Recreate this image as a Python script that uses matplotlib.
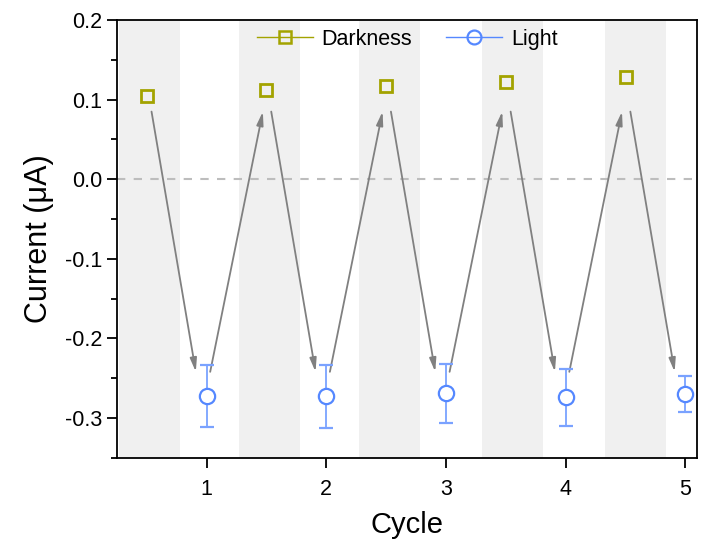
import matplotlib.pyplot as plt
from matplotlib.lines import Line2D
import numpy as np

plt.rcParams['font.family'] = ['Liberation Sans', 'DejaVu Sans']

# data
cycles = [1, 2, 3, 4, 5]
dark_x = [0.5, 1.5, 2.5, 3.5, 4.5]
dark_current = [0.105, 0.112, 0.117, 0.122, 0.128]
light_current = [-0.272, -0.273, -0.269, -0.274, -0.270]
light_err = [0.039, 0.039, 0.037, 0.036, 0.023]
band_start = [0.27, 1.27, 2.27, 3.30, 4.33]
band_end = [0.78, 1.78, 2.78, 3.81, 4.84]

dark_col = '#a3a300'
light_col = '#5588ff'
arrow_col = '#808080'

fig = plt.figure(figsize=(7.08, 5.43), dpi=100)
ax = fig.add_axes([0.165, 0.157, 0.82, 0.806])

# shaded darkness periods
for s, e in zip(band_start, band_end):
    ax.axvspan(s, e, color='#f0f0f0', lw=0, zorder=0)

ax.axhline(0, color='#bdbdbd', ls=(0, (4, 4)), lw=1.5, zorder=1)

# arrows between states
y_hi, y_lo = 0.085, -0.242
style = '-|>,head_length=0.8,head_width=0.2'
for xd, xl in zip(dark_x, cycles):
    ax.annotate('', xy=(xl - 0.09, y_lo), xytext=(xd + 0.04, y_hi),
                arrowprops=dict(arrowstyle=style, color=arrow_col, lw=1.3,
                                shrinkA=0, shrinkB=0), zorder=2)
for xl, xd in zip(cycles[:-1], dark_x[1:]):
    ax.annotate('', xy=(xd - 0.03, y_hi), xytext=(xl + 0.03, y_lo),
                arrowprops=dict(arrowstyle=style, color=arrow_col, lw=1.3,
                                shrinkA=0, shrinkB=0), zorder=2)

ax.plot(dark_x, dark_current, ls='none', marker='s', ms=8, mfc='none',
        mec=dark_col, mew=2, zorder=3)
ax.errorbar(cycles, light_current, yerr=light_err, ls='none', marker='o', ms=11,
            mfc='white', mec=light_col, mew=1.6, ecolor='#7aa2ff', elinewidth=1.3,
            capsize=5, capthick=1.3, zorder=3)

ax.set_xlim(0.25, 5.1)
ax.set_ylim(-0.35, 0.2)
ax.set_xticks(cycles)
ax.set_yticks([-0.3, -0.2, -0.1, 0.0, 0.1, 0.2])
ax.set_yticklabels(['-0.3', '-0.2', '-0.1', '0.0', '0.1', '0.2'])
ax.set_yticks(np.arange(-0.35, 0.2, 0.1), minor=True)
ax.tick_params(direction='out', length=7, width=1.3, labelsize=15.5)
ax.tick_params(axis='x', pad=8)
ax.tick_params(which='minor', direction='out', length=4, width=1.3)
for sp in ax.spines.values():
    sp.set_linewidth(1.3)

ax.set_xlabel('Cycle', fontsize=21, labelpad=8)
ax.set_ylabel('Current (μA)', fontsize=22, labelpad=8)

handles = [
    Line2D([], [], color=dark_col, lw=1, marker='s', ms=8, mfc='none', mec=dark_col, mew=1.8),
    Line2D([], [], color=light_col, lw=1, marker='o', ms=10, mfc='none', mec=light_col, mew=1.6),
]
ax.legend(handles, ['Darkness', 'Light'], loc='upper center', bbox_to_anchor=(0.5, 1.025),
          ncol=2, frameon=False, fontsize=15.5, handlelength=2.6, columnspacing=1.6,
          handletextpad=0.4)

fig.savefig('out.png', dpi=100)
